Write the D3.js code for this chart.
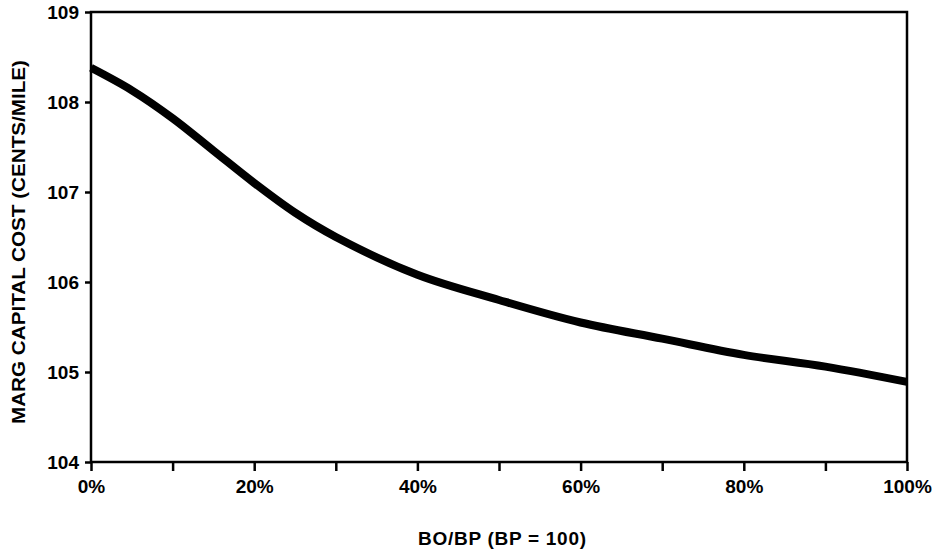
<!DOCTYPE html>
<html><head><meta charset="utf-8">
<script src="https://cdn.jsdelivr.net/npm/d3@7"></script>
<style>body{margin:0;background:#fff}svg{display:block}</style>
</head><body><svg id="c" width="951" height="551"></svg>
<script>
const xPct = [0,5,10,15,20,25,30,40,50,60,70,80,90,100];
const costVals = [108.38,108.13,107.82,107.46,107.1,106.77,106.5,106.08,105.8,105.55,105.37,105.19,105.06,104.89];
const yTicks = [104,105,106,107,108,109];
const xMajor = [0,20,40,60,80,100];
const xMinor = [10,30,50,70,90];
const xTitle = "BO/BP (BP = 100)";
const yTitle = "MARG CAPITAL COST (CENTS/MILE)";

const svg = d3.select("#c");
const L=91,R=907,T=12,B=462;
const x = d3.scaleLinear().domain([0,100]).range([L,R]);
const y = d3.scaleLinear().domain([104,109]).range([B,T]);
const font = "'Liberation Sans', Arial, sans-serif";

svg.append("rect").attr("x",L).attr("y",T).attr("width",R-L).attr("height",B-T)
  .attr("fill","none").attr("stroke","#000").attr("stroke-width",2.5);

const ya = svg.append("g").attr("transform",`translate(${L},0)`)
  .call(d3.axisLeft(y).tickValues(yTicks).tickSize(6).tickPadding(6).tickFormat(d3.format("d")));
const xa = svg.append("g").attr("transform",`translate(0,${B})`)
  .call(d3.axisBottom(x).tickValues(xMajor).tickSize(9).tickPadding(9).tickFormat(d=>d+"%"));
const xm = svg.append("g").attr("transform",`translate(0,${B})`)
  .call(d3.axisBottom(x).tickValues(xMinor).tickSize(9).tickFormat(""));
[ya,xa,xm].forEach(g=>{
  g.select(".domain").remove();
  g.selectAll(".tick line").attr("stroke","#000").attr("stroke-width",2.5);
  g.selectAll(".tick text").attr("fill","#000").style("font-family",font)
   .style("font-size","19px").style("font-weight","bold");
});

svg.append("path").datum(xPct.map((p,i)=>[p,costVals[i]]))
  .attr("fill","none").attr("stroke","#000").attr("stroke-width",8)
  .attr("d",d3.line().x(d=>x(d[0])).y(d=>y(d[1])).curve(d3.curveCatmullRom.alpha(0.5)));

svg.append("text").attr("x",502).attr("y",545).attr("text-anchor","middle")
  .style("font-family",font).style("font-size","19px").style("font-weight","bold")
  .attr("textLength",168).attr("lengthAdjust","spacing").text(xTitle);
svg.append("text").attr("transform","translate(25,242) rotate(-90)").attr("text-anchor","middle")
  .style("font-family",font).style("font-size","19px").style("font-weight","bold")
  .attr("textLength",364).attr("lengthAdjust","spacingAndGlyphs").text(yTitle);
</script></body></html>
